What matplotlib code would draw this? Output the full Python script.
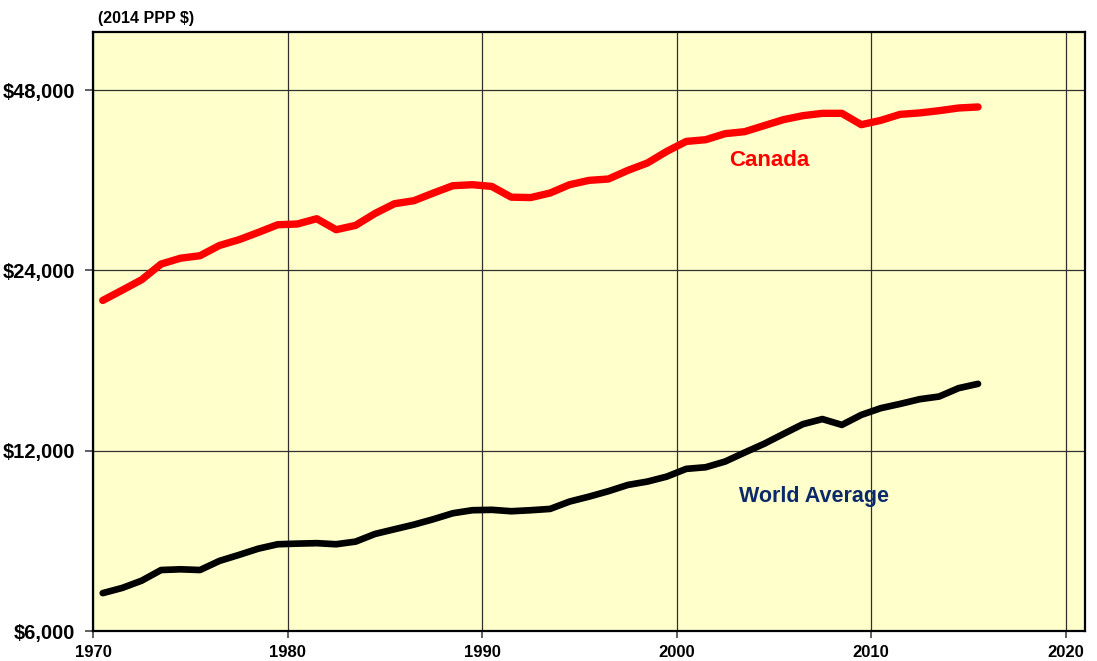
import numpy as np
import matplotlib.pyplot as plt
from matplotlib.ticker import FixedLocator, NullLocator

# mid-year points, 1970.5 .. 2015.5
years = np.arange(1970, 2016) + 0.5

canada = [21380, 22240, 23150, 24590, 25150, 25390, 26410, 27000, 27770, 28600,
          28680, 29270, 28060, 28530, 29870, 31010, 31370, 32310, 33230, 33360,
          33140, 31800, 31750, 32310, 33360, 33920, 34100, 35250, 36260, 37920,
          39400, 39660, 40590, 40900, 41860, 42840, 43500, 43890, 43890, 42020,
          42720, 43720, 43960, 44340, 44800, 44980]

world = [6940, 7080, 7280, 7585, 7606, 7585, 7855, 8038, 8234, 8375,
         8395, 8410, 8375, 8460, 8713, 8872, 9031, 9221, 9435, 9545,
         9560, 9508, 9545, 9593, 9868, 10057, 10270, 10520, 10656, 10862,
         11190, 11260, 11510, 11915, 12320, 12800, 13290, 13550, 13250, 13770,
         14130, 14365, 14626, 14777, 15260, 15515]

yticks = [6000, 12000, 24000, 48000]
ytick_labels = ['$6,000', '$12,000', '$24,000', '$48,000']
xticks = [1970, 1980, 1990, 2000, 2010, 2020]

plt.rcParams['font.family'] = ['Liberation Sans', 'DejaVu Sans']
plt.rcParams['font.weight'] = 'bold'

fig = plt.figure(figsize=(10.97, 6.61), dpi=100)
ax = fig.add_axes([93 / 1097, 1 - 631 / 661, (1085 - 93) / 1097, (631 - 32) / 661])
ax.set_facecolor('#FFFFCC')

ax.plot(years, canada, color='#FF0000', lw=5.3, solid_capstyle='round', solid_joinstyle='round', zorder=3)
ax.plot(years, world, color='black', lw=4.8, solid_capstyle='round', solid_joinstyle='round', zorder=3)

ax.set_yscale('log')
ax.set_ylim(6000, 60000)
ax.set_xlim(1970, 2021)
ax.yaxis.set_major_locator(FixedLocator(yticks))
ax.yaxis.set_minor_locator(NullLocator())
ax.set_yticklabels(ytick_labels, fontsize=14.5, fontweight='bold')
ax.set_xticks(xticks)
ax.set_xticklabels([str(x) for x in xticks], fontsize=12, fontweight='bold')
ax.tick_params(axis='y', length=6, width=1.2, pad=7, color='#444444')
ax.tick_params(axis='x', length=5, width=1.2, pad=5, color='#444444')

ax.grid(True, color='#303030', lw=0.9, zorder=1)
ax.set_axisbelow(True)
for s in ax.spines.values():
    s.set_linewidth(1.6)
    s.set_color('black')

ax.text(2004.75, 36600, 'Canada', color='#FF0000', fontsize=16, fontweight='bold',
        ha='center', va='center')
ax.text(2007.05, 10050, 'World Average', color='#0B2A6B', fontsize=15.5, fontweight='bold',
        ha='center', va='center')

fig.text(98 / 1097, 1 - 19 / 661, '(2014 PPP $)', fontsize=11.5, fontweight='bold',
         ha='left', va='center')

fig.savefig('out.png', dpi=100)
